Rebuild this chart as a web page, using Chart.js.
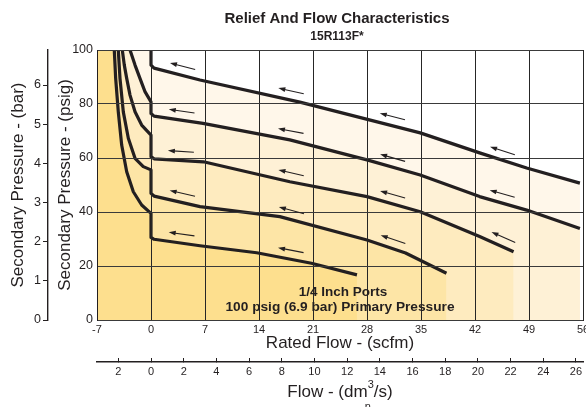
<!DOCTYPE html>
<html>
<head>
<meta charset="utf-8">
<script src="https://cdn.jsdelivr.net/npm/chart.js@4.4.1/dist/chart.umd.min.js"></script>
<style>
  html, body { margin: 0; padding: 0; background: #fff; }
  #wrap { width: 586px; height: 407px; }
</style>
</head>
<body>
<div id="wrap"><canvas id="reliefChart" width="586" height="407"></canvas></div>
<script>
// ---- data (flow in scfm, pressure in psig) ----
// curves listed from the lowest set pressure to the highest
const curve1Flow = [-4.76, -4.58, -4.24, -3.8, -3.15, -2.29, -1.21, 0, 0, 0.4, 6.35, 13.7, 20.8, 26.7];
const curve1Psig = [100, 89.5, 77.1, 64.8, 54.9, 47.5, 42.6, 39.5, 30.6, 29.9, 27.5, 24.9, 21.0, 16.7];

const curve2Flow = [-4.24, -4.02, -3.59, -2.94, -2.07, -1.0, 0, 0, 0.4, 6.35, 16.7, 28, 33, 38.3];
const curve2Psig = [100, 89.5, 77.1, 67.3, 59.9, 56.8, 55.6, 46.9, 45.9, 42, 38.3, 29.6, 24.8, 17.3];

const curve3Flow = [-3.72, -3.46, -3.15, -2.72, -2.07, -1.21, 0, 0, 0.4, 6.8, 18, 28, 34.9, 42.6, 47];
const curve3Psig = [100, 94.4, 89.5, 83.3, 77.1, 72.2, 68.5, 60.5, 59.7, 58.6, 51.2, 45.7, 40.1, 30.9, 25.3];

const curve4Flow = [-2.72, -2.07, -1.43, -0.78, 0, 0, 0.4, 6.74, 18, 28, 34.9, 42.6, 48.7, 55.6];
const curve4Psig = [100, 94.4, 89.5, 84.6, 80.8, 76.5, 75.5, 72.8, 66.7, 59.3, 53.7, 45.7, 40.7, 33.9];

const curve5Flow = [0, 0, 0.4, 6.35, 19.3, 34.9, 42.6, 48.7, 55.6];
const curve5Psig = [100, 94.4, 93.3, 88.9, 80.7, 69.3, 61.9, 56.3, 50.7];

// flow arrows: flow positions and how many each curve carries
const arrowFlows = [3.8, 17.9, 31.0, 45.2];
const arrowCounts = [2, 3, 4, 4, 4];

// axis ranges / ticks
const flowMin = -7, flowMax = 56, flowStep = 7;
const psigMin = 0, psigMax = 100, psigStep = 20;
const barStep = 1;
const dm3Step = 2;

// unit conversions
const SCFM_PER_DM3 = 2.1189;
const PSI_PER_BAR = 14.5038;

// ---- styles ----
const ink = "#231f20";
const FONT = "'Liberation Sans', Arial, Helvetica, sans-serif";
const fillShades = ["#FDDF8E", "#FDE5A6", "#FEEBBF", "#FEF1D6", "#FFF7EA"];

const curves = [
  { flow: curve1Flow, psig: curve1Psig },
  { flow: curve2Flow, psig: curve2Psig },
  { flow: curve3Flow, psig: curve3Psig },
  { flow: curve4Flow, psig: curve4Psig },
  { flow: curve5Flow, psig: curve5Psig }
];

function toPoints(flow, psig) {
  return flow.map((f, i) => ({ x: f, y: psig[i] }));
}

// line datasets first (drawn on top), then fills (lowest curve's fill on top)
const lineSets = curves.map(c => ({
  data: toPoints(c.flow, c.psig),
  borderColor: ink,
  borderWidth: 3.2,
  borderJoinStyle: "round",
  pointRadius: 0,
  tension: 0,
  fill: false
}));

const fillSets = curves.map((c, i) => ({
  data: [{ x: flowMin, y: psigMax }].concat(toPoints(c.flow, c.psig)),
  borderWidth: 0,
  borderColor: "transparent",
  backgroundColor: fillShades[i],
  pointRadius: 0,
  tension: 0,
  fill: "origin"
}));

/* -------------------- arrows along the curves -------------------- */

function segmentAt(flow, f) {
  for (let i = 1; i < flow.length; i++) {
    if (flow[i - 1] <= f && f <= flow[i] && flow[i] > flow[i - 1]) return i;
  }
  return flow.length - 1;
}

const arrowPlugin = {
  id: "flowArrows",
  afterDraw(chart) {
    const { ctx } = chart;
    const xs = chart.scales.x, ys = chart.scales.y;
    ctx.save();
    ctx.strokeStyle = ink;
    ctx.fillStyle = ink;
    ctx.lineWidth = 1.1;
    curves.forEach((c, ci) => {
      for (let k = 0; k < arrowCounts[ci]; k++) {
        const f = arrowFlows[k];
        const i = segmentAt(c.flow, f);
        const x0 = xs.getPixelForValue(c.flow[i - 1]), y0 = ys.getPixelForValue(c.psig[i - 1]);
        const x1 = xs.getPixelForValue(c.flow[i]), y1 = ys.getPixelForValue(c.psig[i]);
        const t = (f - c.flow[i - 1]) / (c.flow[i] - c.flow[i - 1]);
        const px = x0 + (x1 - x0) * t, py = y0 + (y1 - y0) * t;
        const len = Math.hypot(x1 - x0, y1 - y0);
        const ux = (x1 - x0) / len, uy = (y1 - y0) / len;
        const nx = uy, ny = -ux; // upward normal
        const cx = px + nx * 9, cy = py + ny * 9;
        const hx = cx - ux * 13, hy = cy - uy * 13;
        const tx = cx + ux * 13, ty = cy + uy * 13;
        ctx.beginPath();
        ctx.moveTo(tx, ty);
        ctx.lineTo(hx + ux * 5, hy + uy * 5);
        ctx.stroke();
        ctx.beginPath();
        ctx.moveTo(hx, hy);
        ctx.lineTo(hx + ux * 7 + nx * 2.4, hy + uy * 7 + ny * 2.4);
        ctx.lineTo(hx + ux * 7 - nx * 2.4, hy + uy * 7 - ny * 2.4);
        ctx.closePath();
        ctx.fill();
      }
    });
    ctx.restore();
  }
};

/* -------------------- titles and notes -------------------- */

const textPlugin = {
  id: "chartTexts",
  afterDraw(chart) {
    const { ctx, chartArea } = chart;
    const mid = (chartArea.left + chartArea.right) / 2;
    ctx.save();
    ctx.fillStyle = ink;
    ctx.textBaseline = "alphabetic";
    ctx.textAlign = "center";

    ctx.font = `bold 15px ${FONT}`;
    ctx.fillText("Relief And Flow Characteristics", mid - 3, 23);
    ctx.font = `bold 12px ${FONT}`;
    ctx.fillText("15R113F*", mid - 3, 39.5);

    ctx.font = `bold 13.5px ${FONT}`;
    ctx.fillText("1/4 Inch Ports", mid + 3, 296);
    ctx.font = `bold 13.7px ${FONT}`;
    ctx.fillText("100 psig (6.9 bar) Primary Pressure", mid, 311);

    // second flow axis title with superscript 3 and subscript n
    ctx.textAlign = "left";
    const big = `17px ${FONT}`, small = `11px ${FONT}`;
    ctx.font = big;
    const a = "Flow - (dm", b = "/s)";
    const wa = ctx.measureText(a).width, wb = ctx.measureText(b).width;
    ctx.font = small;
    const ws = ctx.measureText("3").width;
    const start = mid - (wa + ws + wb) / 2;
    ctx.font = big;
    ctx.fillText(a, start, 397);
    ctx.fillText(b, start + wa + ws, 397);
    ctx.font = small;
    ctx.fillText("3", start + wa, 388);
    ctx.fillText("n", start + wa - 3, 410);
    ctx.restore();
  }
};

/* -------------------- chart -------------------- */

const tickFont = { family: FONT, size: 11 };
const yTickFont = { family: FONT, size: 12.5 };
const titleFont = { family: FONT, size: 17 };

new Chart(document.getElementById("reliefChart").getContext("2d"), {
  type: "line",
  data: { datasets: lineSets.concat(fillSets) },
  plugins: [arrowPlugin, textPlugin],
  options: {
    responsive: false,
    animation: false,
    layout: { padding: { top: 50, left: 0, right: 3, bottom: 0 } },
    plugins: { legend: { display: false }, tooltip: { enabled: false } },
    scales: {
      x: {
        type: "linear", position: "bottom", weight: 0,
        min: flowMin, max: flowMax,
        ticks: { stepSize: flowStep, padding: 3, color: ink, font: tickFont, maxRotation: 0, autoSkip: false },
        grid: { color: "#262626", lineWidth: 1, drawTicks: false, z: 1 },
        border: { color: ink, width: 1, z: 1 },
        title: { display: true, text: "Rated Flow - (scfm)", color: ink, font: titleFont, padding: { top: 0, bottom: 8 } },
        afterFit: s => { s.height = 42; s.paddingLeft = 0; s.paddingRight = 0; }
      },
      x2: {
        type: "linear", position: "bottom", weight: 1,
        min: flowMin / SCFM_PER_DM3, max: flowMax / SCFM_PER_DM3,
        ticks: {
          stepSize: dm3Step, includeBounds: false, padding: 7, color: ink, font: tickFont,
          maxRotation: 0, autoSkip: false, callback: v => String(Math.abs(v))
        },
        grid: { drawOnChartArea: false, tickLength: -4, color: ink, lineWidth: 1 },
        border: { color: ink, width: 1.4 },
        afterFit: s => { s.height = 45; s.paddingLeft = 0; s.paddingRight = 0; }
      },
      y: {
        type: "linear", position: "left", weight: 0,
        min: psigMin, max: psigMax,
        ticks: { stepSize: psigStep, padding: 4, color: ink, font: yTickFont },
        grid: { color: "#3a3a3a", lineWidth: 1, drawTicks: false, z: 1 },
        border: { color: ink, width: 1, z: 1 },
        title: { display: true, text: "Secondary Pressure - (psig)", color: ink, font: titleFont, padding: { top: 7, bottom: 0 } },
        afterFit: s => { s.width = 49; }
      },
      yBar: {
        type: "linear", position: "left", weight: 1,
        min: 0, max: psigMax / PSI_PER_BAR,
        ticks: { stepSize: barStep, includeBounds: false, padding: 2, color: ink, font: yTickFont },
        grid: { drawOnChartArea: false, tickLength: 5, color: ink, lineWidth: 1 },
        border: { color: ink, width: 1.4 },
        title: { display: true, text: "Secondary Pressure - (bar)", color: ink, font: titleFont, padding: { top: 8, bottom: 0 } },
        afterFit: s => { s.width = 48; }
      }
    }
  }
});
</script>
</body>
</html>
